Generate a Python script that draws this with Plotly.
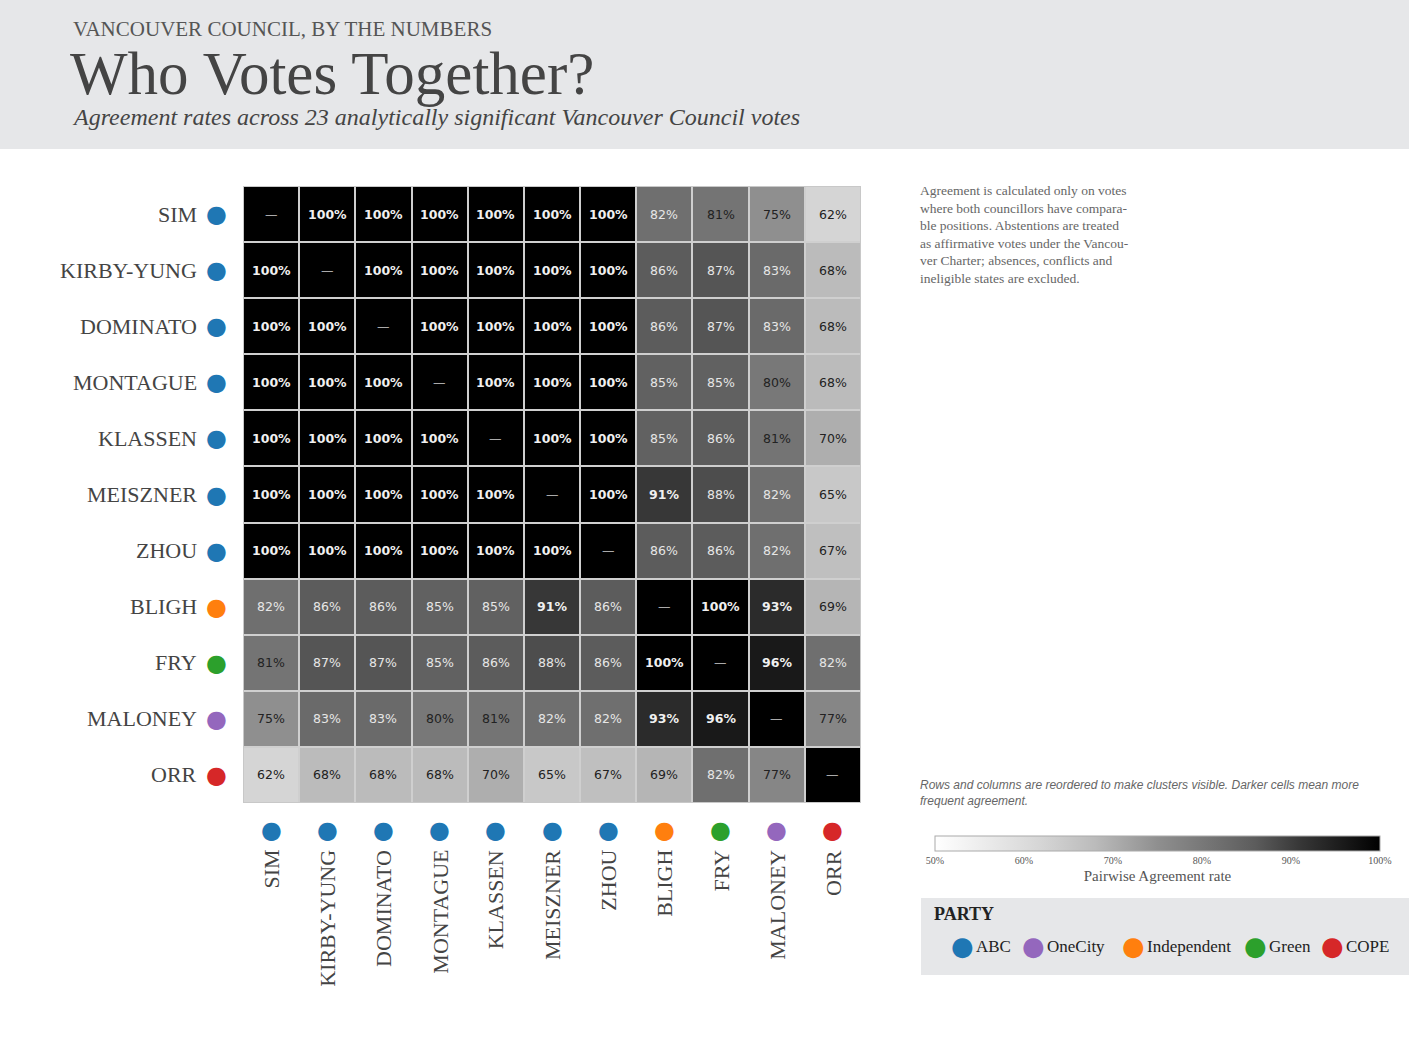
import plotly.graph_objects as go

names = ["SIM","KIRBY-YUNG","DOMINATO","MONTAGUE","KLASSEN","MEISZNER","ZHOU","BLIGH","FRY","MALONEY","ORR"]
parties = ["ABC","ABC","ABC","ABC","ABC","ABC","ABC","Independent","Green","OneCity","COPE"]
party_colors = {"ABC":"#1f77b4","OneCity":"#9467bd","Independent":"#ff7f0e","Green":"#2ca02c","COPE":"#d62728"}
legend_order = ["ABC","OneCity","Independent","Green","COPE"]
N = None
agree = [
    [N,100,100,100,100,100,100,82,81,75,62],
    [100,N,100,100,100,100,100,86,87,83,68],
    [100,100,N,100,100,100,100,86,87,83,68],
    [100,100,100,N,100,100,100,85,85,80,68],
    [100,100,100,100,N,100,100,85,86,81,70],
    [100,100,100,100,100,N,100,91,88,82,65],
    [100,100,100,100,100,100,N,86,86,82,67],
    [82,86,86,85,85,91,86,N,100,93,69],
    [81,87,87,85,86,88,86,100,N,96,82],
    [75,83,83,80,81,82,82,93,96,N,77],
    [62,68,68,68,70,65,67,69,82,77,N],
]
cb_ticks = [50,60,70,80,90,100]
scale_vals = [50, 62, 68, 75, 82, 86, 91, 96, 100]
scale_grey = [255, 213, 187, 143, 111, 92, 55, 25, 0]

n = len(names)
z = [[(100 if v is None else v) for v in row] for row in agree]
SERIF = "Liberation Serif"
SANS = "Liberation Sans"
W, H = 1409, 1044
X0, X1, Y0, Y1 = 243, 861, 186, 803
cw = (X1 - X0) / n
ch = (Y1 - Y0) / n
def px(xp): return xp / W
def py(yp): return 1 - yp / H
def col_x(j): return px(X0 + (j + 0.5) * cw)
def row_y(i): return py(Y0 + (i + 0.5) * ch)

colorscale = [[(v - 50) / 50, f"rgb({g},{g},{g})"] for v, g in zip(scale_vals, scale_grey)]

fig = go.Figure()
fig.add_trace(go.Heatmap(
    z=z, x=list(range(n)), y=list(range(n)), zmin=50, zmax=100,
    colorscale=colorscale, xgap=2, ygap=2, hoverinfo="skip",
    colorbar=dict(orientation="h", x=px(935), xanchor="left", y=py(836), yanchor="top",
                  len=445/W, lenmode="fraction", thickness=15, xpad=0, ypad=0,
                  outlinecolor="#aaaaaa", outlinewidth=1,
                  tickvals=cb_ticks, ticktext=[f"{t}%" for t in cb_ticks], ticks="",
                  tickfont=dict(family=SERIF, size=10, color="#555"),
                  title=dict(text="Pairwise Agreement rate", side="bottom", font=dict(family=SERIF, size=15, color="#555")))
))

ann = []
for i in range(n):
    for j in range(n):
        v = agree[i][j]
        if v is None:
            t, c = "—", "#aaaaaa"
        elif v >= 90:
            t, c = f"<b>{v}%</b>", "#f0f0f0"
        elif v >= 82:
            t, c = f"{v}%", "#e6e6e6"
        else:
            t, c = f"{v}%", "#222222"
        ann.append(dict(x=j, y=i, xref="x", yref="y", text=t, showarrow=False,
                        font=dict(family="DejaVu Sans", size=12.5, color=c)))
for i, nm in enumerate(names):
    col = party_colors[parties[i]]
    ann.append(dict(x=px(X0 - 44), y=row_y(i), xref="paper", yref="paper", text=nm, showarrow=False,
                    xanchor="right", yanchor="middle", font=dict(family=SERIF, size=22, color="#444")))
    ann.append(dict(x=px(X0 - 27), y=row_y(i), xref="paper", yref="paper", text="●", showarrow=False,
                    xanchor="center", yanchor="middle", font=dict(family="DejaVu Sans", size=24, color=col)))
    ann.append(dict(x=col_x(i), y=py(Y1 + 27), xref="paper", yref="paper", text="●", showarrow=False,
                    xanchor="center", yanchor="middle", font=dict(family="DejaVu Sans", size=24, color=col)))
    ann.append(dict(x=col_x(i), y=py(Y1 + 45), xref="paper", yref="paper", text=nm, showarrow=False, textangle=-90,
                    xanchor="center", yanchor="top", font=dict(family=SERIF, size=22, color="#444")))

ann += [
    dict(x=px(71), y=py(15), xref="paper", yref="paper", xanchor="left", yanchor="top", showarrow=False,
         text="VANCOUVER COUNCIL, BY THE NUMBERS", font=dict(family=SERIF, size=21, color="#555")),
    dict(x=px(68), y=py(38), xref="paper", yref="paper", xanchor="left", yanchor="top", showarrow=False,
         text="Who Votes Together?", font=dict(family=SERIF, size=61, color="#444")),
    dict(x=px(70), y=py(102), xref="paper", yref="paper", xanchor="left", yanchor="top", showarrow=False,
         text="<i>Agreement rates across 23 analytically significant Vancouver Council votes</i>", font=dict(family=SERIF, size=24, color="#444")),
    dict(x=px(918), y=py(181), xref="paper", yref="paper", xanchor="left", yanchor="top", showarrow=False, align="left",
         text="Agreement is calculated only on votes<br>where both councillors have compara-<br>ble positions. Abstentions are treated<br>as affirmative votes under the Vancou-<br>ver Charter; absences, conflicts and<br>ineligible states are excluded.",
         font=dict(family=SERIF, size=13.5, color="#666")),
    dict(x=px(918), y=py(776), xref="paper", yref="paper", xanchor="left", yanchor="top", showarrow=False, align="left",
         text="<i>Rows and columns are reordered to make clusters visible. Darker cells mean more<br>frequent agreement.</i>",
         font=dict(family=SANS, size=12, color="#666")),
    dict(x=px(932), y=py(914), xref="paper", yref="paper", xanchor="left", yanchor="middle", showarrow=False,
         text="<b>PARTY</b>", font=dict(family=SERIF, size=18, color="#222")),
]
lx = [962, 1033, 1133, 1255, 1332]
for p, x in zip(legend_order, lx):
    ann.append(dict(x=px(x), y=py(946), xref="paper", yref="paper", xanchor="center", yanchor="middle", showarrow=False,
                    text="●", font=dict(family="DejaVu Sans", size=26, color=party_colors[p])))
    ann.append(dict(x=px(x + 12), y=py(946), xref="paper", yref="paper", xanchor="left", yanchor="middle", showarrow=False,
                    text=p, font=dict(family=SERIF, size=17, color="#222")))

shapes = [
    dict(type="rect", xref="paper", yref="paper", x0=0, x1=1, y0=py(149), y1=1, fillcolor="#e6e7e9", line_width=0, layer="below"),
    dict(type="rect", xref="paper", yref="paper", x0=px(921), x1=1, y0=py(975), y1=py(898), fillcolor="#e6e7e9", line_width=0, layer="below"),
    dict(type="rect", xref="x", yref="y", x0=-0.5, x1=10.5, y0=-0.5, y1=10.5, line=dict(color="#c8c8c8", width=2), fillcolor="rgba(0,0,0,0)"),
]

fig.update_layout(
    width=W, height=H, margin=dict(l=0, r=0, t=0, b=0),
    paper_bgcolor="white", plot_bgcolor="#cfcfcf", showlegend=False,
    xaxis=dict(domain=[px(X0), px(X1)], range=[-0.5, 10.5], showticklabels=False, showgrid=False, zeroline=False),
    yaxis=dict(domain=[py(Y1), py(Y0)], range=[10.5, -0.5], showticklabels=False, showgrid=False, zeroline=False),
    annotations=ann, shapes=shapes,
)
fig.write_html("out.html", config={"displayModeBar": False})
with open("out.html", encoding="utf-8") as f:
    html = f.read()
html = html.replace("<body>", "<body style=\"margin:0;overflow:hidden\">", 1)
with open("out.html", "w", encoding="utf-8") as f:
    f.write(html)
